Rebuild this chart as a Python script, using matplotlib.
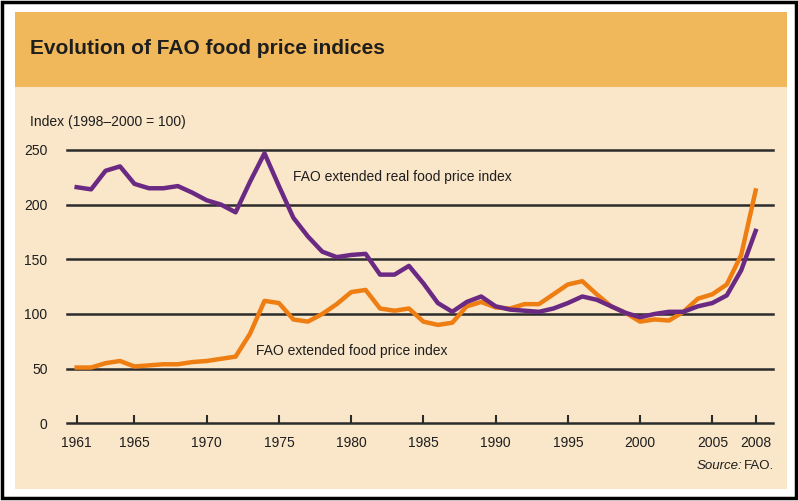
import matplotlib.pyplot as plt
from matplotlib.patches import Rectangle

# ── Data ──────
years = list(range(1961, 2009))

# FAO extended real food price index (1998-2000 = 100)
real_index = [216, 214, 231, 235, 219, 215, 215, 217, 211, 204,
              200, 193, 221, 247, 217, 188, 171, 157, 152, 154,
              155, 136, 136, 144, 128, 110, 102, 111, 116, 107,
              104, 103, 102, 105, 110, 116, 113, 107, 101, 97,
              100, 102, 102, 107, 110, 117, 140, 176]

# FAO extended food price index (nominal)
nominal_index = [51, 51, 55, 57, 52, 53, 54, 54, 56, 57,
                 59, 61, 82, 112, 110, 95, 93, 100, 109, 120,
                 122, 105, 103, 105, 93, 90, 92, 107, 111, 106,
                 105, 109, 109, 118, 127, 130, 118, 107, 101, 93,
                 95, 94, 102, 114, 118, 127, 154, 213]

xtick_years = [1961, 1965, 1970, 1975, 1980, 1985, 1990, 1995, 2000, 2005, 2008]
ytick_vals = [0, 50, 100, 150, 200, 250]

PURPLE = '#6a2a84'
ORANGE = '#ee7d12'
HEADER = '#f0b85a'
PANEL = '#fae6c8'
INK = '#1e1e1e'
FONT = ['Liberation Sans', 'DejaVu Sans']

W, H = 798, 501
fig = plt.figure(figsize=(W / 100, H / 100), dpi=100)
fig.patch.set_facecolor('white')


def box(x0, y0, x1, y1, **kw):
    # rectangle given in pixel coords measured from the top-left
    fig.add_artist(Rectangle((x0 / W, 1 - y1 / H), (x1 - x0) / W, (y1 - y0) / H,
                             transform=fig.transFigure, zorder=-5, **kw))


# frame, panel and header band
box(1.5, 1.5, 796, 498, facecolor='white', edgecolor='black', linewidth=2.5)
box(15, 12, 787, 489, facecolor=PANEL, edgecolor='none')
box(15, 12, 787, 87, facecolor=HEADER, edgecolor='none')

fig.text(30 / W, 1 - 48 / H, 'Evolution of FAO food price indices', family=FONT,
         fontsize=15, fontweight='bold', color=INK, va='center', ha='left')
fig.text(30 / W, 1 - 122 / H, 'Index (1998\u20132000 = 100)', family=FONT,
         fontsize=10, color=INK, va='center', ha='left')

# ── Axes ──────
ax = fig.add_axes([67 / W, 1 - 423.3 / H, 706 / W, 273.3 / H])
ax.set_zorder(2)
ax.set_facecolor('none')
ax.set_xlim(1960.33, 2009.2)
ax.set_ylim(0, 250)

for v in ytick_vals:
    ax.axhline(v, color='#2b2b2b', linewidth=1.8, zorder=1, clip_on=False)

ax.plot(years, real_index, color=PURPLE, linewidth=3.2, zorder=3, solid_joinstyle='round')
ax.plot(years, nominal_index, color=ORANGE, linewidth=3.2, zorder=2, solid_joinstyle='round')

for s in ax.spines.values():
    s.set_visible(False)

ax.set_xticks(xtick_years)
ax.set_xticklabels([str(y) for y in xtick_years], family=FONT, fontsize=10, color=INK)
ax.tick_params(axis='x', direction='in', length=6, width=1.5, color='#2b2b2b', pad=9)
ax.set_yticks(ytick_vals)
ax.set_yticklabels([str(v) for v in ytick_vals], family=FONT, fontsize=10, color=INK)
ax.tick_params(axis='y', length=0, pad=14)

ax.text(293 / W, 1 - 177 / H, 'FAO extended real food price index', transform=fig.transFigure,
        family=FONT, fontsize=10, color=INK, va='center', ha='left')
ax.text(256 / W, 1 - 351 / H, 'FAO extended food price index', transform=fig.transFigure,
        family=FONT, fontsize=10, color=INK, va='center', ha='left')

fig.text(744 / W, 1 - 466 / H, 'FAO.', family=FONT, fontsize=9.5, color=INK,
         va='center', ha='left')
fig.text(742 / W, 1 - 466 / H, 'Source:', family=FONT, fontsize=9.5, style='italic',
         color=INK, va='center', ha='right')

fig.savefig('out.png', dpi=100)
